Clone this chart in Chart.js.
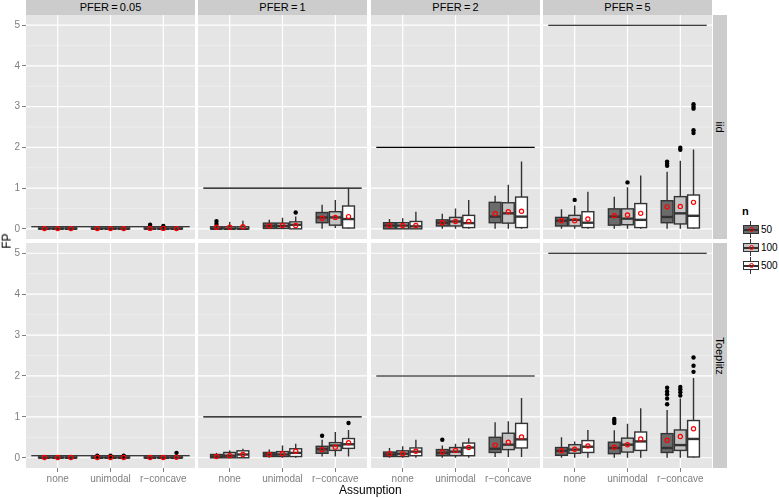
<!DOCTYPE html>
<html>
<head>
<meta charset="utf-8">
<script src="https://cdn.jsdelivr.net/npm/chart.js@4.4.0/dist/chart.umd.min.js"></script>
<style>
  body { margin: 0; background: #fff; font-family: "Liberation Sans", Arial, sans-serif; }
  #page { position: relative; width: 779px; height: 498px; overflow: hidden; }
  .box { position: absolute; }
  .strip { position: absolute; background: #cccccc; color: #000; font-size: 11px; text-align: center; line-height: 15px; }
  .vstrip { position: absolute; background: #cccccc; }
  .vstrip span { position: absolute; left: 50%; top: 50%; transform: translate(-50%, -50%) rotate(90deg); font-size: 11px; white-space: nowrap; }
  .title { position: absolute; font-size: 12px; color: #000; white-space: nowrap; }
  .key { position: absolute; width: 16px; height: 17px; }
  .key div { position: absolute; box-sizing: border-box; }
  .klab { position: absolute; font-size: 10px; line-height: 12px; }
</style>
</head>
<body>
<div id="page"></div>
<script>
// facets: columns = PFER, rows = covariance structure
const pfer = [0.05, 1, 2, 5];
const covs = ['iid', 'Toeplitz'];
const assumptions = ['none', 'unimodal', 'r\u2212concave'];
const nLevels = ['50', '100', '500'];
const yTicks = [0, 1, 2, 3, 4, 5];

// one row per facet (iid 0.05, 1, 2, 5, Toeplitz 0.05, 1, 2, 5)
// 9 boxes each: none 50/100/500, unimodal 50/100/500, r-concave 50/100/500
const lo = [
  [0, 0, 0, 0, 0, 0, 0, 0, 0],
  [0, 0, 0, 0, 0, 0, 0, 0.02, 0],
  [0, 0, 0, 0, 0, 0, 0, 0, 0],
  [0, 0, 0, 0, 0, 0, 0, 0, 0],
  [0, 0, 0, 0, 0, 0, 0, 0, 0],
  [0, 0, 0, 0, 0, 0, 0.03, 0.03, 0.03],
  [0, 0, 0, 0, 0, 0, 0.02, 0.02, 0.02],
  [0, 0, 0, 0, 0, 0, 0, 0, 0]
];
const q1 = [
  [0, 0, 0, 0, 0, 0, 0, 0, 0],
  [0, 0, 0, 0.01, 0.01, 0, 0.15, 0.09, 0.02],
  [0, 0, 0, 0.07, 0.07, 0.03, 0.15, 0.14, 0.03],
  [0.07, 0.07, 0.03, 0.09, 0.1, 0.03, 0.15, 0.12, 0.02],
  [0, 0, 0, 0, 0, 0, 0, 0, 0],
  [0, 0, 0, 0.03, 0.03, 0.03, 0.11, 0.18, 0.23],
  [0.03, 0.03, 0.05, 0.05, 0.05, 0.05, 0.13, 0.2, 0.24],
  [0.06, 0.11, 0.13, 0.1, 0.14, 0.18, 0.13, 0.18, 0.02]
];
const med = [
  [0, 0, 0, 0, 0, 0, 0, 0, 0],
  [0, 0, 0, 0.07, 0.07, 0.1, 0.28, 0.28, 0.24],
  [0.08, 0.08, 0.06, 0.15, 0.18, 0.14, 0.3, 0.38, 0.3],
  [0.2, 0.22, 0.15, 0.3, 0.25, 0.22, 0.29, 0.38, 0.32],
  [0, 0, 0, 0, 0, 0, 0, 0, 0],
  [0.03, 0.05, 0.08, 0.08, 0.08, 0.12, 0.21, 0.3, 0.33],
  [0.08, 0.1, 0.15, 0.12, 0.15, 0.25, 0.22, 0.32, 0.45],
  [0.17, 0.2, 0.27, 0.24, 0.32, 0.4, 0.24, 0.31, 0.46]
];
const q3 = [
  [0.02, 0.02, 0.02, 0.02, 0.02, 0.02, 0.02, 0.02, 0.02],
  [0.05, 0.05, 0.05, 0.14, 0.14, 0.17, 0.4, 0.42, 0.56],
  [0.15, 0.15, 0.18, 0.22, 0.28, 0.33, 0.65, 0.64, 0.78],
  [0.28, 0.33, 0.42, 0.49, 0.49, 0.62, 0.69, 0.79, 0.83],
  [0.02, 0.02, 0.02, 0.02, 0.02, 0.02, 0.02, 0.02, 0.02],
  [0.08, 0.13, 0.17, 0.13, 0.15, 0.22, 0.28, 0.37, 0.47],
  [0.14, 0.17, 0.24, 0.2, 0.25, 0.36, 0.5, 0.6, 0.84],
  [0.25, 0.32, 0.42, 0.38, 0.48, 0.63, 0.59, 0.68, 0.91]
];
const hi = [
  [0.02, 0.02, 0.02, 0.02, 0.02, 0.02, 0.02, 0.02, 0.02],
  [0.1, 0.17, 0.2, 0.22, 0.27, 0.3, 0.59, 0.71, 1.01],
  [0.24, 0.26, 0.42, 0.37, 0.5, 0.71, 0.81, 1.08, 1.65],
  [0.48, 0.57, 0.91, 0.79, 1.02, 1.31, 1.4, 1.67, 1.95],
  [0.02, 0.02, 0.02, 0.02, 0.02, 0.02, 0.02, 0.02, 0.02],
  [0.12, 0.18, 0.22, 0.2, 0.3, 0.34, 0.44, 0.63, 0.68],
  [0.24, 0.28, 0.44, 0.3, 0.34, 0.48, 0.87, 0.89, 1.46],
  [0.5, 0.4, 0.68, 0.67, 0.83, 1.21, 1.17, 1.45, 1.95]
];
const means = [
  [0.005, 0.005, 0.005, 0.005, 0.005, 0.005, 0.01, 0.01, 0.005],
  [0.04, 0.04, 0.05, 0.07, 0.08, 0.08, 0.26, 0.28, 0.3],
  [0.08, 0.08, 0.08, 0.15, 0.18, 0.18, 0.37, 0.42, 0.43],
  [0.2, 0.2, 0.24, 0.32, 0.34, 0.38, 0.54, 0.55, 0.65],
  [0.005, 0.005, 0.005, 0.005, 0.005, 0.005, 0.005, 0.005, 0.01],
  [0.03, 0.05, 0.08, 0.08, 0.1, 0.16, 0.2, 0.26, 0.37],
  [0.1, 0.1, 0.16, 0.14, 0.18, 0.25, 0.31, 0.38, 0.51],
  [0.17, 0.21, 0.29, 0.26, 0.32, 0.46, 0.43, 0.52, 0.71]
];
const outliers = [
  [[], [], [], [], [], [], [0.1], [0.07], []],
  [[0.12, 0.19], [], [], [], [], [0.4], [], [], []],
  [[], [], [], [], [], [], [], [], []],
  [[], [0.71], [], [], [1.14], [], [1.55, 1.6, 1.65], [1.94, 1.99], [2.35, 2.42, 2.95, 3.0, 3.06]],
  [[], [], [], [0.05], [0.05], [0.05], [], [], [0.12]],
  [[], [], [], [], [], [], [0.54], [], [0.85]],
  [[], [], [], [0.44], [], [], [], [], []],
  [[], [], [], [0.85, 0.9, 0.95], [], [], [1.31, 1.45, 1.55, 1.62, 1.71], [1.52, 1.6, 1.67, 1.73], [2.1, 2.25, 2.45]]
];

const fills = ['#6b6b6b', '#c4c4c4', '#ffffff'];
const FONT = 'Liberation Sans';

const page = document.getElementById('page');
const panelX = [26, 198, 371, 543];
const panelW = 169;
const rowY = [15, 243];
const rowH = [224, 225];

function boxX(i) {
  return Math.floor(i / 3) + 1 + (i % 3 - 1) * 0.25;
}

function noPad(s) {
  s.paddingTop = 0; s.paddingBottom = 0; s.paddingLeft = 0; s.paddingRight = 0;
}

// panel background, grid, reference line and the boxes themselves
const panelPlugin = {
  id: 'panel',
  beforeDraw(chart) {
    const { ctx, chartArea: a, scales: { x, y } } = chart;
    ctx.save();
    ctx.fillStyle = '#e5e5e5';
    ctx.fillRect(a.left, a.top, a.width, a.height);
    ctx.strokeStyle = '#f2f2f2';
    ctx.lineWidth = 0.6;
    for (let v = 0.5; v < 5; v += 1) {
      const py = y.getPixelForValue(v);
      ctx.beginPath(); ctx.moveTo(a.left, py); ctx.lineTo(a.right, py); ctx.stroke();
    }
    ctx.strokeStyle = '#ffffff';
    ctx.lineWidth = 1.2;
    yTicks.forEach(v => {
      const py = y.getPixelForValue(v);
      ctx.beginPath(); ctx.moveTo(a.left, py); ctx.lineTo(a.right, py); ctx.stroke();
    });
    [1, 2, 3].forEach(v => {
      const px = x.getPixelForValue(v);
      ctx.beginPath(); ctx.moveTo(px, a.top); ctx.lineTo(px, a.bottom); ctx.stroke();
    });
    ctx.restore();
  },
  beforeDatasetsDraw(chart, args, opts) {
    const f = opts.facet;
    const { ctx, scales: { x, y } } = chart;
    ctx.save();
    // PFER reference line
    const ly = y.getPixelForValue(pfer[f % 4]);
    ctx.strokeStyle = '#000';
    ctx.lineWidth = 1.1;
    ctx.beginPath(); ctx.moveTo(x.getPixelForValue(0.5), ly); ctx.lineTo(x.getPixelForValue(3.5), ly); ctx.stroke();
    for (let i = 0; i < 9; i++) {
      const xc = x.getPixelForValue(boxX(i));
      const xl = x.getPixelForValue(boxX(i) - 0.125);
      const xr = x.getPixelForValue(boxX(i) + 0.125);
      const yLo = y.getPixelForValue(lo[f][i]);
      const y1 = y.getPixelForValue(q1[f][i]);
      const yM = y.getPixelForValue(med[f][i]);
      const y3 = y.getPixelForValue(q3[f][i]);
      const yHi = y.getPixelForValue(hi[f][i]);
      ctx.strokeStyle = '#333333';
      ctx.lineWidth = 1.4;
      ctx.beginPath();
      ctx.moveTo(xc, yLo); ctx.lineTo(xc, y1);
      ctx.moveTo(xc, y3); ctx.lineTo(xc, yHi);
      ctx.stroke();
      ctx.fillStyle = fills[i % 3];
      ctx.fillRect(xl + 0.7, y3, xr - xl - 1.4, y1 - y3);
      ctx.strokeRect(xl + 0.7, y3, xr - xl - 1.4, y1 - y3);
      ctx.lineWidth = 2.4;
      ctx.beginPath(); ctx.moveTo(xl + 0.7, yM); ctx.lineTo(xr - 0.7, yM); ctx.stroke();
    }
    ctx.restore();
  }
};

for (let r = 0; r < 2; r++) {
  for (let c = 0; c < 4; c++) {
    const f = r * 4 + c;
    const left = c === 0 ? 0 : panelX[c];
    const w = panelW + (c === 0 ? 26 : 0);
    const h = rowH[r] + (r === 1 ? 18 : 0);
    const div = document.createElement('div');
    div.className = 'box';
    div.style.left = left + 'px';
    div.style.top = rowY[r] + 'px';
    const cv = document.createElement('canvas');
    cv.width = w; cv.height = h;
    cv.style.width = w + 'px'; cv.style.height = h + 'px';
    div.appendChild(cv);
    page.appendChild(div);

    const meanPts = means[f].map((v, i) => ({ x: boxX(i), y: v }));
    const outPts = [];
    outliers[f].forEach((list, i) => list.forEach(v => outPts.push({ x: boxX(i), y: v })));

    const showX = r === 1;
    const showY = c === 0;
    new Chart(cv, {
      type: 'scatter',
      data: {
        datasets: [
          { label: 'mean', data: meanPts, pointStyle: 'circle', pointRadius: 2.1, borderColor: '#ff0000', borderWidth: 1.2, backgroundColor: 'rgba(0,0,0,0)', order: 0 },
          { label: 'outlier', data: outPts, pointRadius: 2.2, backgroundColor: '#000', borderColor: '#000', borderWidth: 0, order: 1 }
        ]
      },
      options: {
        responsive: false,
        animation: false,
        devicePixelRatio: 1,
        events: [],
        layout: { padding: 0, autoPadding: false },
        plugins: { legend: { display: false }, tooltip: { enabled: false }, panel: { facet: f } },
        scales: {
          x: {
            type: 'linear', min: 0.4, max: 3.6, display: showX,
            afterBuildTicks: s => { s.ticks = [1, 2, 3].map(v => ({ value: v })); },
            afterFit: s => { s.height = showX ? 18 : 0; noPad(s); },
            grid: { drawOnChartArea: false, tickLength: 4, tickColor: '#7f7f7f', tickWidth: 1 },
            border: { display: false },
            ticks: { color: '#7f7f7f', font: { family: FONT, size: 10 }, padding: 1, autoSkip: false, maxRotation: 0, callback: v => assumptions[v - 1] }
          },
          y: {
            type: 'linear', min: -0.25, max: 5.25, display: showY,
            afterBuildTicks: s => { s.ticks = yTicks.map(v => ({ value: v })); },
            afterFit: s => { s.width = showY ? 26 : 0; noPad(s); },
            grid: { drawOnChartArea: false, tickLength: 4, tickColor: '#7f7f7f', tickWidth: 1 },
            border: { display: false },
            ticks: { color: '#7f7f7f', font: { family: FONT, size: 10 }, padding: 2 }
          }
        }
      },
      plugins: [panelPlugin]
    });
  }
}

// strip labels on top
pfer.forEach((p, c) => {
  const s = document.createElement('div');
  s.className = 'strip';
  s.style.left = panelX[c] + 'px';
  s.style.top = '0px';
  s.style.width = panelW + 'px';
  s.style.height = '15px';
  s.textContent = 'PFER\u2009=\u2009' + p;
  page.appendChild(s);
});
// strip labels on the right
covs.forEach((name, r) => {
  const s = document.createElement('div');
  s.className = 'vstrip';
  s.style.left = '713px';
  s.style.top = rowY[r] + 'px';
  s.style.width = '14px';
  s.style.height = rowH[r] + 'px';
  s.innerHTML = '<span>' + name + '</span>';
  page.appendChild(s);
});

// axis titles
const yt = document.createElement('div');
yt.className = 'title';
yt.textContent = 'FP';
yt.style.left = '-1px'; yt.style.top = '234px';
yt.style.transform = 'rotate(-90deg)';
page.appendChild(yt);
const xt = document.createElement('div');
xt.className = 'title';
xt.textContent = 'Assumption';
xt.style.left = '339px'; xt.style.top = '483px';
page.appendChild(xt);

// legend
const lt = document.createElement('div');
lt.className = 'klab';
lt.style.left = '742px'; lt.style.top = '205px';
lt.style.fontWeight = 'bold';
lt.style.fontSize = '11px';
lt.textContent = 'n';
page.appendChild(lt);
nLevels.forEach((lab, k) => {
  const top = 221 + k * 18;
  const key = document.createElement('div');
  key.className = 'key';
  key.style.left = '743px'; key.style.top = top + 'px';
  key.innerHTML =
    '<div style="left:7px;top:0;width:1.4px;height:17px;background:#333"></div>' +
    '<div style="left:0;top:4px;width:16px;height:9px;border:1.4px solid #333;background:' + fills[k] + '"></div>' +
    '<div style="left:0;top:7.5px;width:16px;height:2px;background:#333"></div>' +
    '<div style="left:5.5px;top:6px;width:5px;height:5px;border:1.3px solid #f00;border-radius:50%"></div>';
  page.appendChild(key);
  const kl = document.createElement('div');
  kl.className = 'klab';
  kl.style.left = '761px'; kl.style.top = (top + 3) + 'px';
  kl.textContent = lab;
  page.appendChild(kl);
});
</script>
</body>
</html>
